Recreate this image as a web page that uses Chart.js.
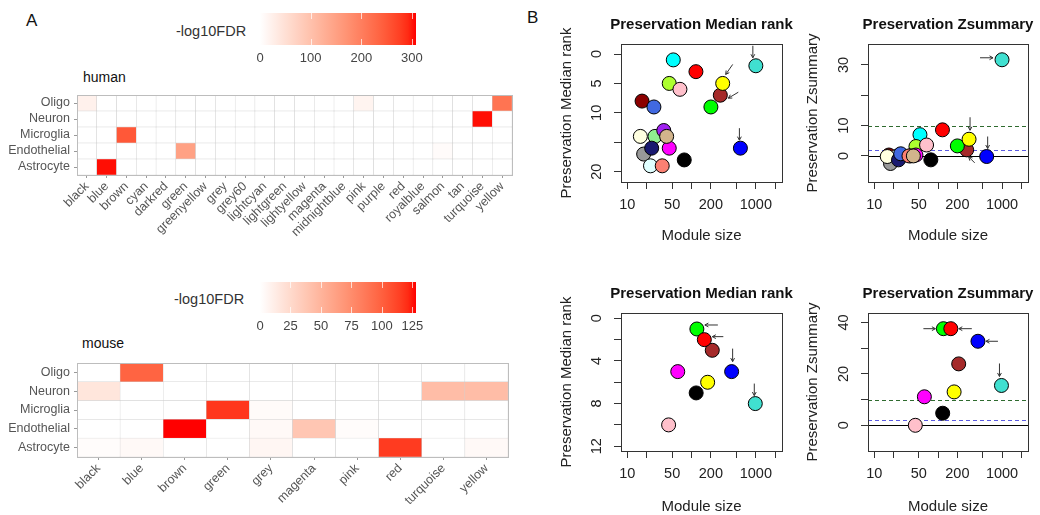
<!DOCTYPE html>
<html>
<head>
<meta charset="utf-8">
<script src="https://cdn.jsdelivr.net/npm/chart.js@4.4.1/dist/chart.umd.min.js"></script>
<style>
  body { margin: 0; background: #fff; width: 1040px; height: 515px; overflow: hidden; position: relative;
         font-family: "Liberation Sans", Arial, Helvetica, sans-serif; }
  canvas { position: absolute; }
  .lbl { position: absolute; white-space: nowrap; line-height: 1; color: #111; }
</style>
</head>
<body>
<div class="lbl" style="left:26px;top:12px;font-size:17px">A</div>
<div class="lbl" style="left:527px;top:9px;font-size:17px">B</div>
<div class="lbl" style="left:83px;top:70px;font-size:14px">human</div>
<div class="lbl" style="left:82px;top:336px;font-size:14px">mouse</div>
<div class="lbl" style="left:176px;top:24px;font-size:14.5px;color:#333">-log10FDR</div>
<div class="lbl" style="left:174px;top:292px;font-size:14.5px;color:#333">-log10FDR</div>

<canvas id="legHuman" width="280" height="75" style="left:160px;top:0px"></canvas>
<canvas id="hmHuman" width="525" height="200" style="left:0px;top:60px"></canvas>
<canvas id="legMouse" width="280" height="70" style="left:160px;top:270px"></canvas>
<canvas id="hmMouse" width="525" height="185" style="left:0px;top:330px"></canvas>
<canvas id="scHumanMed" width="280" height="250" style="left:540px;top:0px"></canvas>
<canvas id="scHumanZ" width="250" height="250" style="left:790px;top:0px"></canvas>
<canvas id="scMouseMed" width="280" height="250" style="left:540px;top:268px"></canvas>
<canvas id="scMouseZ" width="250" height="250" style="left:790px;top:268px"></canvas>

<script>
// ---- heatmap data (-log10 FDR) ----
const cellTypes = ['Oligo', 'Neuron', 'Microglia', 'Endothelial', 'Astrocyte'];

const humanModules = ['black', 'blue', 'brown', 'cyan', 'darkred', 'green', 'greenyellow', 'grey', 'grey60',
  'lightcyan', 'lightgreen', 'lightyellow', 'magenta', 'midnightblue', 'pink', 'purple', 'red', 'royalblue',
  'salmon', 'tan', 'turquoise', 'yellow'];
const humanOligo       = [22, 0, 0, 0, 0, 0, 0, 0, 0, 0, 0, 0, 0, 0, 18, 0, 0, 0, 0, 0, 0, 215];
const humanNeuron      = [0, 0, 0, 0, 0, 0, 0, 0, 0, 0, 0, 0, 0, 0, 0, 0, 0, 0, 0, 0, 305, 0];
const humanMicroglia   = [0, 0, 250, 0, 0, 0, 0, 0, 0, 0, 0, 0, 0, 0, 0, 0, 0, 0, 0, 0, 0, 0];
const humanEndothelial = [0, 0, 0, 0, 0, 150, 0, 0, 0, 0, 0, 0, 0, 0, 0, 0, 0, 0, 6, 0, 0, 0];
const humanAstrocyte   = [0, 305, 0, 0, 0, 0, 0, 0, 0, 0, 0, 0, 0, 0, 0, 0, 0, 0, 0, 0, 0, 0];
const humanMax = 308;
const humanLegendTicks = [0, 100, 200, 300];

const mouseModules = ['black', 'blue', 'brown', 'green', 'grey', 'magenta', 'pink', 'red', 'turquoise', 'yellow'];
const mouseOligo       = [0, 98, 0, 0, 0, 0, 0, 0, 0, 0];
const mouseNeuron      = [17, 0, 0, 0, 0, 0, 0, 0, 44, 44];
const mouseMicroglia   = [0, 0, 0, 118, 3, 0, 0, 0, 0, 0];
const mouseEndothelial = [0, 0, 128, 0, 4, 38, 2, 0, 0, 0];
const mouseAstrocyte   = [2, 4, 0, 0, 6, 0, 0, 116, 0, 4];
const mouseMax = 128;
const mouseLegendTicks = [0, 25, 50, 75, 100, 125];

// ---- module preservation data ----
const humanPresModules = ['black', 'blue', 'brown', 'cyan', 'darkred', 'green', 'greenyellow', 'grey60',
  'lightcyan', 'lightgreen', 'lightyellow', 'magenta', 'midnightblue', 'pink', 'purple', 'red', 'royalblue',
  'salmon', 'tan', 'turquoise', 'yellow'];
const humanSize    = [77, 575, 280, 52, 17, 200, 45, 18, 23, 27, 16, 45, 24, 66, 37, 117, 26, 35, 41, 1000, 305];
const humanMedRank = [18, 16, 7, 1, 8, 9, 5, 17, 19, 14, 14, 16, 16, 6, 13, 3, 9, 19, 14, 2, 5];
const humanZsum    = [-1.3, -0.2, 2.0, 7.0, 0.3, 3.3, 3.1, -2.5, 0, 0, -0.2, 0.3, -1.3, 3.6, 0, 8.6, 0.7, 0, 0, 31.7, 5.5];

const mousePresModules = ['black', 'blue', 'brown', 'green', 'magenta', 'pink', 'red', 'turquoise', 'yellow'];
const mouseSize    = [118, 420, 210, 121, 61, 44, 158, 980, 178];
const mouseMedRank = [7, 5, 3, 1, 5, 10, 2, 8, 6];
const mouseZsum    = [4.7, 32.7, 23.9, 37.6, 11.1, 0, 37.6, 15.5, 13];

const sizeTicks = [10, 20, 50, 100, 200, 500, 1000, 2000];
const sizeTickLabels = [10, 50, 200, 1000];
const humanRankTicks = [0, 5, 10, 15, 20];
const humanRankLabels = [0, 5, 10, 20];
const mouseRankTicks = [0, 2, 4, 6, 8, 10, 12];
const mouseRankLabels = [0, 4, 8, 12];
const humanZTicks = [0, 10, 20, 30];
const humanZLabels = [0, 10, 30];
const mouseZTicks = [0, 10, 20, 30, 40];
const mouseZLabels = [0, 20, 40];
const zThresholds = [0, 2, 10];

const moduleColors = {
  black: '#000000', blue: '#0000FF', brown: '#A52A2A', cyan: '#00FFFF', darkred: '#8B0000', green: '#00FF00',
  greenyellow: '#ADFF2F', grey: '#BEBEBE', grey60: '#999999', lightcyan: '#E0FFFF', lightgreen: '#90EE90',
  lightyellow: '#FFFFE0', magenta: '#FF00FF', midnightblue: '#191970', pink: '#FFC0CB', purple: '#A020F0',
  red: '#FF0000', royalblue: '#4169E1', salmon: '#FA8072', tan: '#D2B48C', turquoise: '#40E0D0', yellow: '#FFFF00'
};

Chart.defaults.font.family = '"Liberation Sans", Arial, Helvetica, sans-serif';
Chart.defaults.animation = false;

// white -> red, interpolated in Lab like ggplot
function fdrColor(t) {
  t = Math.max(0, Math.min(1, t));
  const L = 100 + (53.24 - 100) * t, A = 80.09 * t, B = 67.2 * t;
  const fy = (L + 16) / 116, fx = fy + A / 500, fz = fy - B / 200;
  const f = v => (v * v * v > 0.008856 ? v * v * v : (116 * v - 16) / 903.3);
  const X = f(fx) * 0.95047, Y = (L > 8 ? fy * fy * fy : L / 903.3), Z = f(fz) * 1.08883;
  const lin = [3.2406 * X - 1.5372 * Y - 0.4986 * Z, -0.9689 * X + 1.8758 * Y + 0.0415 * Z, 0.0557 * X - 0.204 * Y + 1.057 * Z];
  const c = lin.map(v => {
    const g = v <= 0.0031308 ? 12.92 * v : 1.055 * Math.pow(v, 1 / 2.4) - 0.055;
    return Math.round(Math.max(0, Math.min(1, g)) * 255);
  });
  return 'rgb(' + c.join(',') + ')';
}

const boxPlugin = color => ({
  id: 'box',
  afterDraw(chart) {
    const {ctx, chartArea: a} = chart;
    ctx.save();
    ctx.strokeStyle = color;
    ctx.lineWidth = 1;
    ctx.strokeRect(Math.round(a.left) + 0.5, Math.round(a.top) + 0.5, Math.round(a.right - a.left), Math.round(a.bottom - a.top));
    ctx.restore();
  }
});

function heatmap(id, modules, rows, maxVal, axisH, padTop, padRight) {
  const bottomUp = cellTypes.slice().reverse();
  new Chart(document.getElementById(id), {
    type: 'bar',
    data: {
      labels: modules,
      datasets: bottomUp.map(ct => ({
        label: ct,
        data: modules.map(() => 1),
        backgroundColor: rows[ct].map(v => fdrColor(v / maxVal)),
        borderColor: '#cfcfcf',
        borderWidth: 0.5,
        borderSkipped: false,
        barPercentage: 1,
        categoryPercentage: 1
      }))
    },
    options: {
      responsive: false,
      layout: {padding: {top: padTop, right: padRight, left: 0, bottom: 0}},
      plugins: {legend: {display: false}, tooltip: {enabled: false}},
      scales: {
        x: {
          stacked: true, offset: true,
          grid: {offset: false, drawOnChartArea: false, tickLength: 3, color: '#9a9a9a'},
          border: {display: false},
          ticks: {autoSkip: false, minRotation: 45, maxRotation: 45, font: {size: 12.5}, color: '#555', padding: 1},
          afterFit: s => { s.height = axisH; }
        },
        y: {
          stacked: true, min: 0, max: 5,
          grid: {drawOnChartArea: false, tickLength: 3, color: '#9a9a9a'},
          border: {display: false},
          afterBuildTicks: s => { s.ticks = bottomUp.map((c, i) => ({value: i + 0.5})); },
          ticks: {callback: (v, i) => bottomUp[i], font: {size: 12.5}, color: '#555', padding: 4},
          afterFit: s => { s.width = 77; }
        }
      }
    },
    plugins: [boxPlugin('#bdbdbd')]
  });
}

function colorbar(id, maxVal, ticks, padTop, barH, canvasH) {
  const whiteTicks = {
    id: 'whiteTicks',
    afterDatasetsDraw(chart) {
      const {ctx, chartArea: a, scales: {x}} = chart;
      ctx.save();
      ctx.strokeStyle = 'rgba(255,255,255,0.7)';
      ctx.lineWidth = 1;
      ticks.forEach(v => {
        if (v === 0) return;
        const px = Math.round(x.getPixelForValue(v)) + 0.5;
        ctx.beginPath(); ctx.moveTo(px, a.top); ctx.lineTo(px, a.top + 6);
        ctx.moveTo(px, a.bottom - 6); ctx.lineTo(px, a.bottom); ctx.stroke();
      });
      ctx.restore();
    }
  };
  new Chart(document.getElementById(id), {
    type: 'bar',
    data: {
      labels: [''],
      datasets: [{
        data: [maxVal],
        borderWidth: 0,
        barPercentage: 1,
        categoryPercentage: 1,
        backgroundColor: c => {
          const a = c.chart.chartArea;
          if (!a) return '#f00';
          const g = c.chart.ctx.createLinearGradient(a.left, 0, a.right, 0);
          for (let i = 0; i <= 20; i++) g.addColorStop(i / 20, fdrColor(i / 20));
          return g;
        }
      }]
    },
    options: {
      indexAxis: 'y',
      responsive: false,
      layout: {padding: {left: 100, right: 24, top: padTop, bottom: 0}},
      plugins: {legend: {display: false}, tooltip: {enabled: false}},
      scales: {
        x: {
          min: 0, max: maxVal,
          afterBuildTicks: s => { s.ticks = ticks.map(v => ({value: v})); },
          grid: {drawOnChartArea: false, drawTicks: false},
          border: {display: false},
          ticks: {font: {size: 13}, color: '#444', padding: 6},
          afterFit: s => { s.height = canvasH - padTop - barH; }
        },
        y: {display: false}
      }
    },
    plugins: [whiteTicks]
  });
}

function scatter(id, cfg) {
  const rPlot = {
    id: 'rPlot',
    beforeDatasetsDraw(chart) {
      const {ctx, chartArea: a, scales: {y}} = chart;
      ctx.save();
      ctx.beginPath(); ctx.rect(a.left, a.top, a.right - a.left, a.bottom - a.top); ctx.clip();
      (cfg.hlines || []).forEach(h => {
        const py = Math.round(y.getPixelForValue(h.value)) + 0.5;
        ctx.strokeStyle = h.color; ctx.lineWidth = 1; ctx.setLineDash(h.dash);
        ctx.beginPath(); ctx.moveTo(a.left, py); ctx.lineTo(a.right, py); ctx.stroke();
      });
      ctx.restore();
    },
    afterDatasetsDraw(chart) {
      const {ctx} = chart;
      const pts = chart.getDatasetMeta(0).data;
      ctx.save();
      ctx.strokeStyle = '#333'; ctx.lineWidth = 1;
      (cfg.arrows || []).forEach(ar => {
        const p = pts[cfg.names.indexOf(ar.name)];
        const tx = p.x + ar.tail[0], ty = p.y + ar.tail[1], hx = p.x + ar.head[0], hy = p.y + ar.head[1];
        const ang = Math.atan2(hy - ty, hx - tx);
        ctx.beginPath(); ctx.moveTo(tx, ty); ctx.lineTo(hx, hy);
        ctx.moveTo(hx - 4 * Math.cos(ang - 0.5), hy - 4 * Math.sin(ang - 0.5)); ctx.lineTo(hx, hy);
        ctx.lineTo(hx - 4 * Math.cos(ang + 0.5), hy - 4 * Math.sin(ang + 0.5));
        ctx.stroke();
      });
      ctx.restore();
    },
    afterDraw(chart) {
      const {ctx, chartArea: a, scales: {y}} = chart;
      ctx.save();
      ctx.strokeStyle = '#333'; ctx.lineWidth = 1;
      ctx.strokeRect(Math.round(a.left) + 0.5, Math.round(a.top) + 0.5, Math.round(a.right - a.left), Math.round(a.bottom - a.top));
      ctx.fillStyle = '#222';
      ctx.font = '14.5px "Liberation Sans", Arial, sans-serif';
      ctx.textAlign = 'center'; ctx.textBaseline = 'middle';
      cfg.yLabels.forEach(v => {
        ctx.save();
        ctx.translate(a.left - 24, y.getPixelForValue(v));
        ctx.rotate(-Math.PI / 2);
        ctx.fillText(String(v), 0, 0);
        ctx.restore();
      });
      ctx.fillStyle = '#111';
      ctx.font = 'bold 15px "Liberation Sans", Arial, sans-serif';
      ctx.fillText(cfg.title, (a.left + a.right) / 2, a.top - 19);
      ctx.restore();
    }
  };
  new Chart(document.getElementById(id), {
    type: 'scatter',
    data: {
      datasets: [{
        data: cfg.sizes.map((s, i) => ({x: s, y: cfg.values[i]})),
        pointBackgroundColor: cfg.names.map(n => moduleColors[n]),
        pointBorderColor: '#000',
        pointBorderWidth: 1,
        pointRadius: 7,
        pointHoverRadius: 7
      }]
    },
    options: {
      responsive: false,
      layout: {padding: {top: cfg.padTop, right: cfg.padRight, left: 0, bottom: 0}},
      plugins: {legend: {display: false}, tooltip: {enabled: false}, title: {display: false}},
      scales: {
        x: {
          type: 'logarithmic', min: 8, max: 2550,
          afterBuildTicks: s => { s.ticks = sizeTicks.map(v => ({value: v})); },
          grid: {drawOnChartArea: false, tickLength: 7, color: '#333'},
          border: {display: false},
          ticks: {autoSkip: false, maxRotation: 0, font: {size: 14.5}, color: '#222', padding: 7.3,
                  callback: v => (sizeTickLabels.includes(v) ? String(v) : '')},
          title: {display: true, text: 'Module size', font: {size: 15}, color: '#222', padding: {top: 0, bottom: cfg.xTitlePad}},
          afterFit: s => { s.height = cfg.xAxisH; }
        },
        y: {
          min: cfg.yMin, max: cfg.yMax, reverse: cfg.reverse,
          afterBuildTicks: s => { s.ticks = cfg.yTicks.map(v => ({value: v})); },
          grid: {drawOnChartArea: false, tickLength: 7, color: '#333'},
          border: {display: false},
          ticks: {display: false},
          title: {display: true, text: cfg.yTitle, font: {size: 15}, color: '#222', padding: {top: cfg.yTitlePad, bottom: 0}},
          afterFit: s => { s.width = cfg.yAxisW; }
        }
      }
    },
    plugins: [rPlot]
  });
}

const zLines = [
  {value: zThresholds[0], color: '#000', dash: []},
  {value: zThresholds[1], color: '#5a5ae0', dash: [4, 3]},
  {value: zThresholds[2], color: '#2f6b2f', dash: [4, 3]}
];

colorbar('legHuman', humanMax, humanLegendTicks, 13, 32, 75);
colorbar('legMouse', mouseMax, mouseLegendTicks, 12, 31, 70);

heatmap('hmHuman', humanModules,
  {Oligo: humanOligo, Neuron: humanNeuron, Microglia: humanMicroglia, Endothelial: humanEndothelial, Astrocyte: humanAstrocyte},
  humanMax, 85, 35, 13);
heatmap('hmMouse', mouseModules,
  {Oligo: mouseOligo, Neuron: mouseNeuron, Microglia: mouseMicroglia, Endothelial: mouseEndothelial, Astrocyte: mouseAstrocyte},
  mouseMax, 58, 33, 17);

scatter('scHumanMed', {
  names: humanPresModules, sizes: humanSize, values: humanMedRank,
  yMin: -1.7, yMax: 21.75, reverse: true, yTicks: humanRankTicks, yLabels: humanRankLabels,
  title: 'Preservation Median rank', yTitle: 'Preservation Median rank',
  padTop: 44, padRight: 38, yAxisW: 81, yTitlePad: 18, xAxisH: 68, xTitlePad: 5,
  arrows: [
    {name: 'turquoise', tail: [-3, -20], head: [-3, -8]},
    {name: 'yellow', tail: [10, -19], head: [3, -9]},
    {name: 'brown', tail: [18, -3], head: [8, 3]},
    {name: 'blue', tail: [-1, -20], head: [-1, -8]}
  ]
});
scatter('scHumanZ', {
  names: humanPresModules, sizes: humanSize, values: humanZsum,
  yMin: -8.6, yMax: 36.9, reverse: false, yTicks: humanZTicks, yLabels: humanZLabels,
  title: 'Preservation Zsummary', yTitle: 'Preservation Zsummary', hlines: zLines,
  padTop: 44, padRight: 12, yAxisW: 78, yTitlePad: 14, xAxisH: 68, xTitlePad: 5,
  arrows: [
    {name: 'turquoise', tail: [-22, -2], head: [-9, -2]},
    {name: 'yellow', tail: [1, -22], head: [1, -9]},
    {name: 'blue', tail: [1, -20], head: [1, -8]},
    {name: 'brown', tail: [8, 13], head: [2, 7]}
  ]
});
scatter('scMouseMed', {
  names: mousePresModules, sizes: mouseSize, values: mouseMedRank,
  yMin: -0.5, yMax: 12.45, reverse: true, yTicks: mouseRankTicks, yLabels: mouseRankLabels,
  title: 'Preservation Median rank', yTitle: 'Preservation Median rank',
  padTop: 45, padRight: 38, yAxisW: 81, yTitlePad: 18, xAxisH: 67, xTitlePad: 2.3,
  arrows: [
    {name: 'green', tail: [21, -4], head: [8, -4]},
    {name: 'red', tail: [19, -3], head: [8, -3]},
    {name: 'blue', tail: [1, -23], head: [1, -10]},
    {name: 'turquoise', tail: [-1, -20], head: [-1, -8]}
  ]
});
scatter('scMouseZ', {
  names: mousePresModules, sizes: mouseSize, values: mouseZsum,
  yMin: -10, yMax: 43.7, reverse: false, yTicks: mouseZTicks, yLabels: mouseZLabels,
  title: 'Preservation Zsummary', yTitle: 'Preservation Zsummary', hlines: zLines,
  padTop: 45, padRight: 12, yAxisW: 78, yTitlePad: 14, xAxisH: 67, xTitlePad: 2.3,
  arrows: [
    {name: 'green', tail: [-20, 0], head: [-8, 0]},
    {name: 'red', tail: [21, 0], head: [8, 0]},
    {name: 'blue', tail: [20, 0], head: [8, 0]},
    {name: 'turquoise', tail: [-2, -22], head: [-2, -9]}
  ]
});
</script>
</body>
</html>
